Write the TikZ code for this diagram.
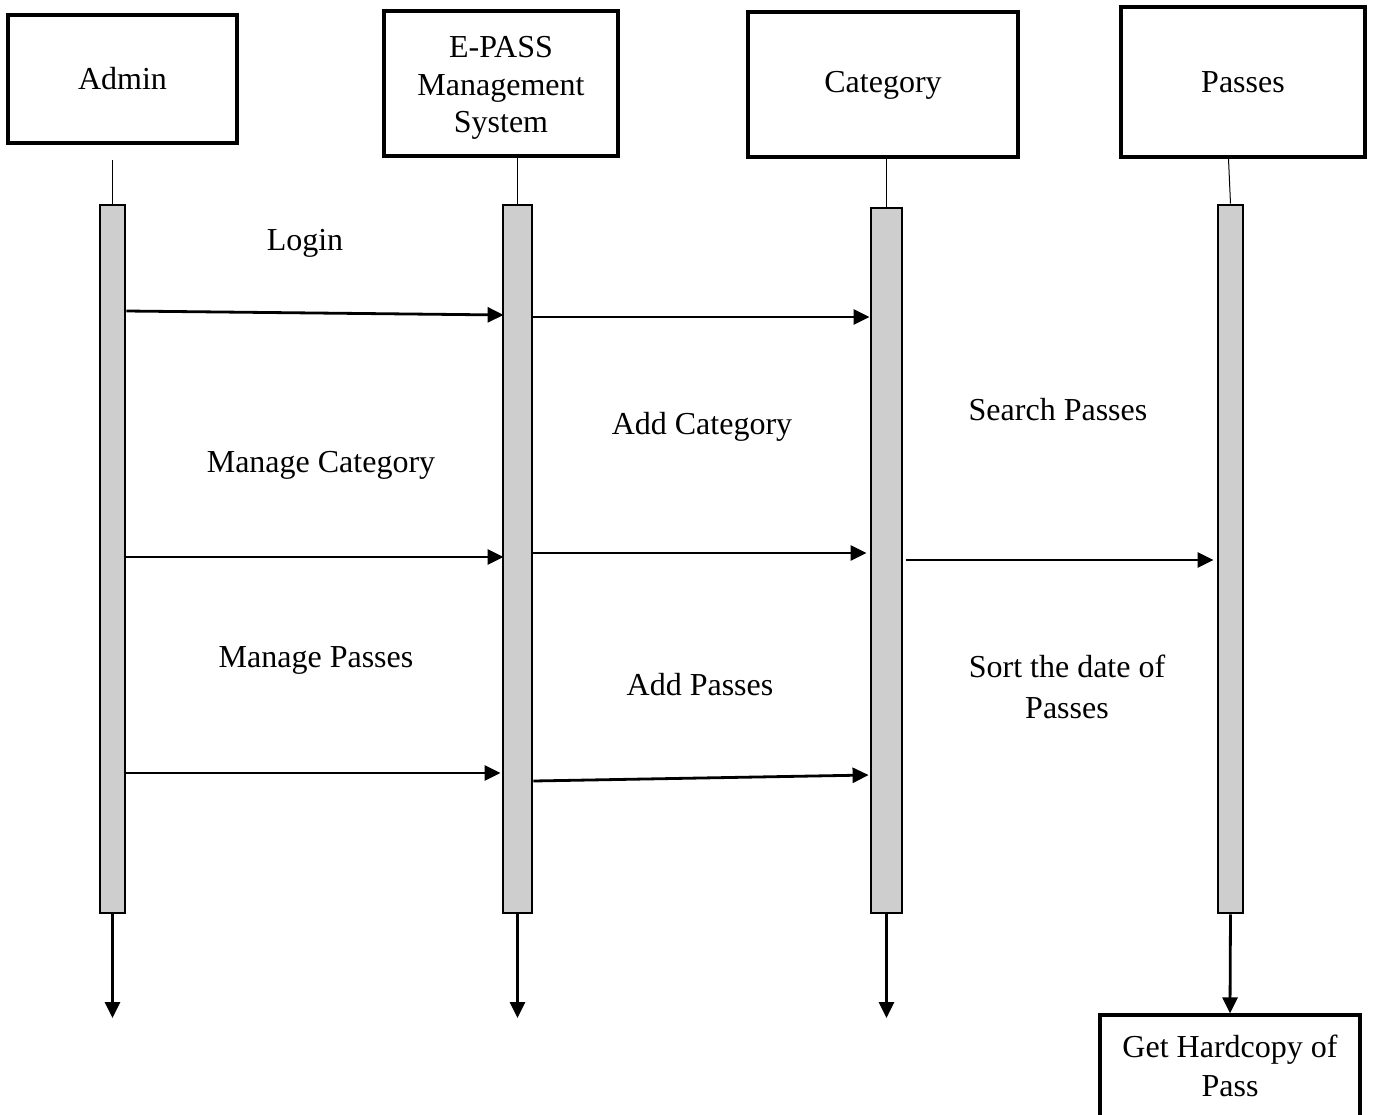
\documentclass[tikz,border=0pt]{standalone}
\usepackage{fontspec}
\setmainfont{Liberation Serif}
\usetikzlibrary{arrows.meta,calc}
\definecolor{barfill}{HTML}{CFCECF}
\begin{document}
\begin{tikzpicture}[x=0.5pt,y=-0.5pt,
  every node/.style={font=\fontsize{16}{19.5}\selectfont},
  actor/.style={draw, line width=1.6pt, rectangle, inner sep=0pt, align=center},
  actbar/.style={draw, line width=1.4pt, fill=barfill, rectangle, inner sep=0pt, minimum width=#1, minimum height=354pt},
  stem/.style={line width=0.5pt},
  msg/.style={line width=1.4pt, -{Triangle[length=8pt,width=7.5pt]}},
  lbl/.style={inner sep=0pt, text height=0.68em, text depth=0.22em},
  mlbl/.style={inner sep=0pt, align=center}]
\useasboundingbox (0,0) rectangle (1373,1115);
\clip (0,0) rectangle (1373,1115);

% actor boxes
\node[actor, minimum width=114.5pt, minimum height=64pt] (admin) at (122.5,79) {Admin};
\node[actor, minimum width=117pt, minimum height=72.5pt] (eps) at (501,83.5) {};
\node[mlbl, font=\fontsize{16}{18.75}\selectfont] (epsT) at (501,88) {E-PASS\\Management\\System};
\node[actor, minimum width=135pt, minimum height=72.5pt] (cat) at (883,84.5) {};
\node[lbl] (catT) at (883,88) {Category};
\node[actor, minimum width=122pt, minimum height=75pt] (pas) at (1243,82) {Passes};
\node[actor, minimum width=130pt, minimum height=51pt] (hard) at (1230,1066) {Get Hardcopy of\\Pass};

% activation bars
\node[actbar=12.5pt] (aBar) at (112.5,559) {};
\node[actbar=14.5pt] (eBar) at (517.5,559) {};
\node[actbar=15.5pt, minimum height=352.5pt] (cBar) at (886.5,560.5) {};
\node[actbar=12.5pt] (pBar) at (1230.5,559) {};

% stems
\draw[stem] (aBar.north) -- (aBar.north |- 0,160);
\draw[stem] (eBar.north) -- (eBar.north |- eps.south);
\draw[stem] (cBar.north) -- (cBar.north |- cat.south);
\draw[stem] (pBar.north) -- ($(pBar.north |- pas.south)+(-2,0)$);

% end coordinates
\coordinate (yEnd) at (0,1018);
\draw[msg] (aBar.south) -- (aBar.south |- yEnd) coordinate (aEnd);
\draw[msg] (eBar.south) -- (eBar.south |- yEnd) coordinate (eEnd);
\draw[msg] (cBar.south) -- (cBar.south |- yEnd) coordinate (cEnd);
\draw[msg] (pBar.south) -- (hard.north);

% message y levels
\coordinate (y1a) at (0,311);
\coordinate (y1b) at (0,315);
\coordinate (y2) at (0,317);
\coordinate (y3) at (0,557);
\coordinate (y4) at (0,553);
\coordinate (y5) at (0,560);
\coordinate (y6) at (0,773);
\coordinate (y7a) at (0,781);
\coordinate (y7b) at (0,775);

\draw[msg] (aBar.east |- y1a) -- ($(eBar.west |- y1b)+(2,0)$);
\draw[msg] (eBar.east |- y2) -- (cBar.west |- y2);
\draw[msg] (aBar.east |- y3) -- ($(eBar.west |- y3)+(2,0)$);
\draw[msg] (eBar.east |- y4) -- ($(cBar.west |- y4)+(-3,0)$);
\draw[msg] ($(cBar.east |- y5)+(3,0)$) -- ($(pBar.west |- y5)+(-3,0)$);
\draw[msg] (aBar.east |- y6) -- ($(eBar.west |- y6)+(-1,0)$);
\draw[msg] (eBar.east |- y7a) -- ($(cBar.west |- y7b)+(-1,0)$);

% labels
\node[lbl] (l1) at (305,246) {Login};
\node[lbl] (l2) at (321,468) {Manage Category};
\node[lbl] (l3) at (316,663) {Manage Passes};
\node[lbl] (l4) at (702,430) {Add Category};
\node[lbl] (l5) at (700,691) {Add Passes};
\node[lbl] (l6) at (1058,416) {Search Passes};
\node[mlbl, font=\fontsize{16}{20.5}\selectfont] (l7) at (1067,687) {Sort the date of\\Passes};
\end{tikzpicture}
\end{document}
